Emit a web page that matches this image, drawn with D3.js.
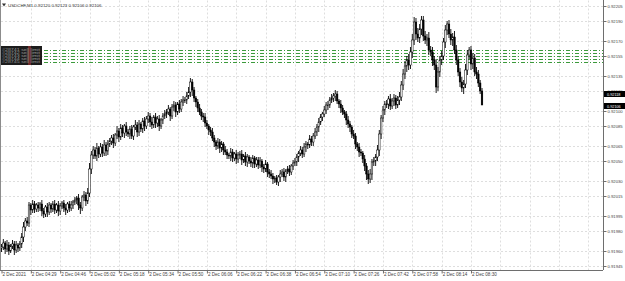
<!DOCTYPE html>
<html>
<head>
<meta charset="utf-8">
<script src="https://cdn.jsdelivr.net/npm/d3@7"></script>
<style>
body { margin: 0; background: #fff; }
svg { display: block; font-family: "Liberation Sans", Arial, sans-serif; }
</style>
</head>
<body>
<svg id="chart"></svg>
<script>
// USDCHF M1, prices in points above basePrice (1 point = 0.00001)
const symbol = "USDCHF,M1";
const lastBar = ["0.92120", "0.92123", "0.92106", "0.92106"];
const basePrice = 0.919;
const firstOpen = 63;

const closes = [
  64,68,62,66,60,65,67,61,66,63,
  67,74,84,90,88,106,101,107,102,106,
  103,107,100,97,104,99,106,102,107,101,
  106,100,105,108,103,101,107,103,106,109,
  111,113,106,103,114,116,110,118,142,156,
  161,155,163,157,164,158,166,160,167,170,
  173,168,176,180,174,183,178,185,179,177,
  182,175,184,186,179,187,182,190,185,192,
  195,189,186,194,188,192,185,191,195,197,
  199,202,195,204,206,199,207,202,209,211,
  211,215,219,229,221,213,209,203,199,195,
  194,188,185,181,179,173,169,165,169,163,
  167,161,159,156,155,159,153,157,152,156,
  157,151,155,149,154,150,148,153,147,151,
  146,150,144,142,147,139,137,135,132,133,
  129,134,137,139,134,140,142,139,145,148,
  149,154,158,161,157,164,167,166,172,169,
  175,179,184,189,194,197,201,206,206,211,
  213,215,217,210,207,203,199,197,191,187,
  184,177,175,167,164,159,158,152,145,137,
  132,137,149,150,154,161,177,193,201,207,
  207,212,205,210,213,206,211,214,226,237,
  245,251,246,259,271,289,277,273,282,291,
  275,271,273,261,259,251,246,224,239,251,
  255,269,281,287,277,271,274,261,251,239,
  229,223,227,241,256,261,247,253,239,237,
  228,220,206
];
const wickUp = [
  3,4,2,5,3,2,4,3,4,2, 3,4,5,3,4,3,2,4,3,2, 3,2,4,3,2,4,3,2,3,4,
  2,4,3,2,3,4,2,3,4,2, 3,2,4,3,2,4,3,5,6,4, 4,3,5,2,4,3,5,3,4,3,
  3,4,2,5,3,4,3,2,4,3, 3,4,2,5,3,4,2,3,4,3, 4,3,5,2,4,3,4,2,3,4,
  3,4,2,3,4,3,2,4,3,4, 3,4,5,4,3,3,2,3,4,3, 3,4,3,2,3,4,3,2,4,3,
  3,2,4,3,2,4,3,2,4,3, 3,4,2,4,3,2,4,3,2,3, 3,4,2,3,4,2,3,4,3,2,
  3,2,4,3,4,2,3,4,2,3, 4,3,2,4,3,4,3,2,4,3, 3,4,3,4,3,2,4,3,4,3,
  4,3,4,3,2,4,3,2,3,4, 3,2,4,3,2,4,3,2,4,3, 4,5,3,4,3,5,4,3,4,3,
  4,3,5,3,4,3,4,5,4,5, 5,4,6,5,6,5,4,6,5,4, 4,5,4,6,4,5,4,6,5,4,
  5,4,5,3,4,5,4,6,5,4, 4,5,4,6,5,3,4,5,4,5, 4,3,3
];
const wickDn = [
  4,3,5,3,4,2,3,5,3,4, 3,4,5,4,3,4,5,3,4,3, 4,3,5,4,3,5,3,4,3,4,
  3,5,4,3,4,5,3,4,3,4, 3,4,5,6,3,4,5,3,4,5, 4,3,5,4,3,4,3,5,4,3,
  4,5,3,4,5,3,4,5,4,3, 5,3,4,3,5,4,3,4,5,3, 4,5,4,3,5,4,5,3,4,3,
  4,3,5,3,4,5,3,4,3,4, 3,4,3,5,6,4,5,4,3,4, 5,4,3,5,4,3,5,4,3,5,
  4,5,3,4,3,5,4,3,5,4, 4,5,3,4,5,3,4,5,4,3, 4,3,5,4,3,5,4,3,5,4,
  3,4,5,3,4,5,3,4,3,4, 3,4,5,3,4,3,5,4,3,4, 4,3,4,5,3,4,3,4,5,3,
  3,4,5,3,4,5,3,4,5,4, 5,4,3,5,4,5,3,4,5,6, 5,4,6,4,5,4,6,5,4,5,
  4,5,4,3,5,4,3,5,4,5, 5,6,5,4,6,5,6,4,5,6, 5,4,6,5,4,6,5,6,4,5,
  5,4,6,5,4,5,6,4,5,4, 5,4,6,4,5,4,6,5,4,5, 4,3,0
];

const priceTicks = [0.92205, 0.92190, 0.92170, 0.92155, 0.92135, 0.92120, 0.92100, 0.92085,
                    0.92065, 0.92050, 0.92030, 0.92015, 0.91995, 0.91980, 0.91960, 0.91945];
const timeLabels = ["2 Dec 2021", "2 Dec 04:29", "2 Dec 04:46", "2 Dec 05:02", "2 Dec 05:18",
                    "2 Dec 05:34", "2 Dec 05:50", "2 Dec 06:06", "2 Dec 06:22", "2 Dec 06:38",
                    "2 Dec 06:54", "2 Dec 07:10", "2 Dec 07:26", "2 Dec 07:42", "2 Dec 07:58",
                    "2 Dec 08:14", "2 Dec 08:30"];
const labelStep = 16;      // bars between two time labels
const gridBars = 21;       // vertical grid lines incl. empty space on the right

const levels = [0.92161, 0.92158, 0.92155, 0.92152, 0.92149];
const levelNames = ["#28741 sell limit", "#28742 sell limit", "#28743 sell limit", "#28744 sell limit", "#28745 sell limit"];
const askPrice = "0.92118", bidPrice = "0.92106";

const width = 625, height = 281;
const plot = {left: 1, right: 603, top: 0.5, bottom: 270};

const svg = d3.select("#chart").attr("width", width).attr("height", height);

const candles = closes.map((c, i) => {
  const o = i ? closes[i - 1] : firstOpen;
  return {i, o, c, h: Math.max(o, c) + wickUp[i], l: Math.min(o, c) - wickDn[i]};
});

const y = d3.scaleLinear()
    .domain([0.91945, 0.92205])
    .range([266, 6]);
const x = d3.scaleLinear()
    .domain([0, closes.length - 1])
    .range([1.5, 482]);
const py = v => y(basePrice + v / 100000);

// grid
const grid = svg.append("g").attr("stroke", "#dedede").attr("stroke-dasharray", "2,2");
grid.selectAll("line.h").data(priceTicks).enter().append("line")
    .attr("x1", plot.left).attr("x2", plot.right)
    .attr("y1", d => Math.round(y(d)) + 0.5).attr("y2", d => Math.round(y(d)) + 0.5);
grid.selectAll("line.v").data(d3.range(1, gridBars)).enter().append("line")
    .attr("x1", d => Math.round(x(d * labelStep)) + 0.5).attr("x2", d => Math.round(x(d * labelStep)) + 0.5)
    .attr("y1", plot.top).attr("y2", plot.bottom);

// level lines
svg.append("g").selectAll("line").data(levels).enter().append("line")
    .attr("x1", 44).attr("x2", plot.right)
    .attr("y1", d => Math.round(y(d)) + 0.5).attr("y2", d => Math.round(y(d)) + 0.5)
    .attr("stroke", "#3c9a3c").attr("stroke-width", 1)
    .attr("stroke-dasharray", "4,2,1,2");

// stacked level names (dark block on the left)
const lbl = svg.append("g");
lbl.append("rect").attr("x", 1).attr("y", y(levels[0]) - 4).attr("width", 41)
    .attr("height", y(levels[levels.length - 1]) - y(levels[0]) + 7).attr("fill", "#1c1c1c");
lbl.append("rect").attr("x", 28).attr("y", y(levels[0]) - 4).attr("width", 3)
    .attr("height", y(levels[levels.length - 1]) - y(levels[0]) + 7).attr("fill", "#6e2a2a");
lbl.selectAll("text").data(levels).enter().append("text")
    .attr("x", 2).attr("y", d => y(d) + 1.2)
    .attr("font-size", 3).attr("fill", "#999")
    .attr("textLength", 38).attr("lengthAdjust", "spacingAndGlyphs")
    .text((d, i) => levelNames[i]);

// candles
const cg = svg.append("g");
cg.selectAll("line").data(candles).enter().append("line")
    .attr("x1", d => x(d.i)).attr("x2", d => x(d.i))
    .attr("y1", d => py(d.h)).attr("y2", d => py(d.l))
    .attr("stroke", "#000").attr("stroke-width", 0.9);
cg.selectAll("rect").data(candles).enter().append("rect")
    .attr("x", d => x(d.i) - 0.8).attr("width", 1.6)
    .attr("y", d => py(Math.max(d.o, d.c)))
    .attr("height", d => Math.max(0.8, Math.abs(py(d.o) - py(d.c))))
    .attr("fill", d => d.c >= d.o ? "#fff" : "#000")
    .attr("stroke", "#000").attr("stroke-width", 0.5);

// frame
svg.append("line").attr("x1", 0.5).attr("x2", 0.5).attr("y1", 0).attr("y2", plot.bottom)
    .attr("stroke", "#8c8c8c");

// price axis
const yAxis = svg.append("g")
    .attr("transform", `translate(${plot.right + 0.5},0)`)
    .call(d3.axisRight(y).tickValues(priceTicks).tickSize(3).tickPadding(1).tickFormat(d3.format(".5f")));
yAxis.select(".domain").attr("stroke", "#6e6e6e").attr("d", `M0,0V${plot.bottom}`);
yAxis.selectAll(".tick line").attr("stroke", "#6e6e6e");
yAxis.selectAll("text").attr("font-size", 4.2).attr("fill", "#444").attr("font-family", null);

// ask / bid tags
const tags = svg.append("g");
[askPrice, bidPrice].forEach(p => {
  const yy = Math.round(y(+p));
  tags.append("rect").attr("x", plot.right + 1).attr("y", yy - 2)
      .attr("width", 21).attr("height", 6).attr("fill", "#000");
  tags.append("text").attr("x", plot.right + 4).attr("y", yy + 2.8)
      .attr("font-size", 3.8).attr("fill", "#fff").text(p);
});

// time axis
const xAxis = svg.append("g")
    .attr("transform", `translate(0,${plot.bottom + 0.5})`)
    .call(d3.axisBottom(x)
        .tickValues(timeLabels.map((t, i) => i * labelStep))
        .tickSize(3).tickFormat((d, i) => timeLabels[i]));
xAxis.select(".domain").attr("stroke", "#6e6e6e").attr("d", `M0,0H${plot.right}`);
xAxis.selectAll(".tick line").attr("stroke", "#6e6e6e");
xAxis.selectAll("text").attr("font-size", 4.6).attr("fill", "#444")
    .attr("font-family", null).attr("text-anchor", "start").attr("dx", 0.5).attr("y", 2);

// header
svg.append("path").attr("d", "M2,3.5h4l-2,3z").attr("fill", "#333");
svg.append("text").attr("x", 8).attr("y", 7).attr("font-size", 4.4).attr("fill", "#333")
    .text(`${symbol}  ${lastBar.join(" ")}`);
</script>
</body>
</html>
